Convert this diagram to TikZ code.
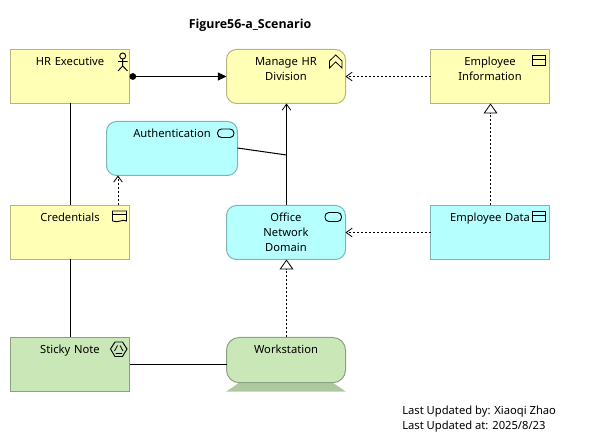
\documentclass[tikz,border=0pt]{standalone}
\usepackage{fontspec}
\setmainfont{Noto Sans}
\newfontfamily\titlefont{Open Sans}
\usetikzlibrary{arrows.meta}
\definecolor{yfill}{HTML}{FFFFB5}
\definecolor{ydraw}{HTML}{B5B57E}
\definecolor{cfill}{HTML}{B5FFFF}
\definecolor{cdraw}{HTML}{7EB5B5}
\definecolor{gfill}{HTML}{C9E7B7}
\definecolor{gdraw}{HTML}{8CA180}
\definecolor{gbase}{HTML}{B0C8A0}
\tikzset{
  x=0.75pt,y=-0.75pt,
  elem/.style={anchor=north west,outer sep=0pt,inner xsep=0pt,inner ysep=3.3pt,line width=0.75pt,align=center,
    text width=#1*0.75pt,text height=8.7pt,text depth=25.2pt,font=\fontsize{8.4}{11.25}\selectfont},
  yel/.style={elem=119,draw=ydraw,fill=yfill},
  cya/.style={elem=#1,draw=cdraw,fill=cfill},
  gre/.style={elem=119,draw=gdraw,fill=gfill},
  rnd/.style={rounded corners=7.5pt},
  conn/.style={line width=0.75pt,black},
  dep/.style={line width=0.7pt,black,dash pattern=on 1.5pt off 1.5pt},
  barb/.style={-{Straight Barb[length=4.5pt,width=6.5pt,line width=0.6pt]}},
  tri/.style={-{Triangle[open,fill=white,length=7.5pt,width=10.5pt,line width=0.6pt]}},
  ico/.style={line width=0.7pt,black},
  free/.style={anchor=north west,inner sep=0pt,font=\fontsize{8.4}{11.25}\selectfont,align=left}
}
\begin{document}
\begin{tikzpicture}
\useasboundingbox (0,0) rectangle (592,448);
\node[anchor=center,inner sep=0pt,font=\titlefont\fontsize{9.3}{11}\selectfont\bfseries] (title) at (250,25) {Figure56-a\_Scenario};

\node[yel] (hr) at (10.5,49.5) {HR Executive};
\node[yel,rnd] (mgr) at (226.5,49.5) {Manage HR\\Division};
\node[yel] (info) at (430.5,49.5) {Employee\\Information};
\node[cya=131,rnd] (auth) at (106.5,121.5) {Authentication};
\node[yel] (cred) at (10.5,205.5) {Credentials};
\node[cya=119,rnd] (office) at (226.5,205.5) {Office\\Network\\Domain};
\node[cya=119] (data) at (430.5,205.5) {Employee Data};
\node[gre] (sticky) at (10.5,337.5) {Sticky Note};
\fill[gbase] (226,391.7) -- (241,381.5) -- (331,381.5) -- (346,391.7) -- cycle;
\node[gre,rnd,rounded corners=9.5pt,text depth=18.6pt] (work) at (226.5,337.5) {Workstation};
\node[free] (foot) at (402,406) {Last Updated by: Xiaoqi Zhao\\Last Updated at: 2025/8/23};

\coordinate (joint) at (286.5,155);
\coordinate (credup) at (118,205.5);
\draw[conn,{Circle[length=5pt]}-{Triangle[length=6.5pt,width=6pt]}] (hr.east |- 0,76.5) -- (mgr.west |- 0,76.5);
\draw[conn] ([xshift=0.375pt]hr.south) -- ([xshift=0.375pt]cred.north);
\draw[conn] ([xshift=0.375pt]cred.south) -- ([xshift=0.375pt]sticky.north);
\draw[conn] (sticky.east |- 0,364.5) -- (work.west |- 0,364.5);
\draw[conn,-{Straight Barb[length=4.5pt,width=6.5pt,line width=0.6pt]}] ([xshift=0.375pt]office.north) -- ([xshift=0.375pt]mgr.south);
\draw[conn] (auth.east |- 0,148) -- (joint);
\draw[dep,barb] (credup) -- (auth.south -| credup);
\draw[dep,barb] (info.west |- 0,76.5) -- (mgr.east |- 0,76.5);
\draw[dep,barb] (data.west |- 0,232.5) -- (office.east |- 0,232.5);
\draw[dep,tri] ([xshift=0.375pt]data.north) -- ([xshift=0.375pt]info.south);
\draw[dep,tri] ([xshift=0.375pt]work.north) -- ([xshift=0.375pt]office.south);

% actor icon
\draw[ico] (122.7,56) circle[radius=3];
\draw[ico] (122.7,59) -- (122.7,66) (118,61.5) -- (127.5,61.5) (118,71) -- (122.7,66) -- (127.5,71);
% process icon
\draw[ico,line width=0.6pt,line join=miter] (335.7,55) -- (342,61) -- (342,68) -- (335.7,62) -- (329.5,68) -- (329.5,61) -- cycle;
% data object icons
\draw[ico] (532.5,55.5) rectangle (545.5,65.5) (532.5,59) -- (545.5,59);
\draw[ico] (532.5,211.5) rectangle (545.5,221.5) (532.5,215) -- (545.5,215);
% service icons
\draw[ico,rounded corners=3pt] (217.5,129) rectangle (234,137.5);
\draw[ico,rounded corners=3pt] (325,212.5) rectangle (341.5,221.5);
% representation icon
\draw[ico] (112.5,221) -- (112.5,211) -- (126.5,211) -- (126.5,221) .. controls (122,218.5) and (119,223.5) .. (112.5,221) (112.5,214.5) -- (126.5,214.5);
% equipment icon
\draw[ico] (110.5,349) -- (115,342) -- (122.5,342) -- (127,349) -- (122.5,356.5) -- (115,356.5) -- cycle;
\draw[ico,line width=0.6pt] (114.5,351) -- (117.5,345.5) (120,345.5) -- (123,351) (115.5,353.5) -- (122,353.5);
\end{tikzpicture}
\end{document}
